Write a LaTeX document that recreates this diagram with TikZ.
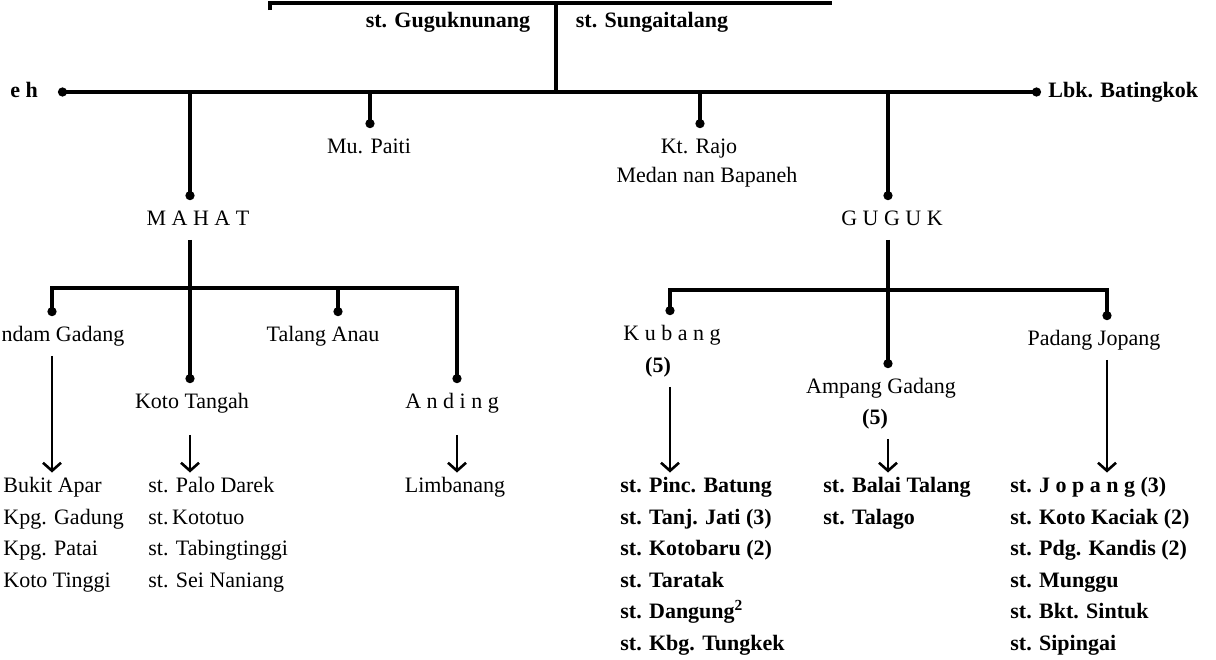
\documentclass[tikz,border=0pt]{standalone}
\usepackage{fontspec}
\setmainfont{Liberation Serif}
\usetikzlibrary{arrows.meta,calc}
\newcommand\lblfont{\fontsize{11}{13}\selectfont}

\begin{document}
\begin{tikzpicture}[
  x=0.5pt, y=-0.5pt,
  font=\lblfont,
  lbl/.style={inner sep=4.5pt, text height=8pt, text depth=2.5pt},
  item/.style={anchor=west, inner sep=0pt, outer ysep=2pt, text height=8pt, text depth=2.5pt},
  heavy/.style={font=\lblfont\bfseries},
  wire/.style={draw=black, line width=1.6pt},
  todot/.style={wire, -{Circle[length=4.5pt]}},
  bothdot/.style={wire, {Circle[length=4.5pt]}-{Circle[length=4.5pt]}},
  tolist/.style={draw=black, line width=1.3pt, -{Straight Barb[length=4pt,width=9pt]}}
]
\useasboundingbox (0,0) rectangle (1216,659);

\coordinate (boxL) at (270,3);
\coordinate (boxR) at (832,3);
\coordinate (boxM) at (556,3);
\coordinate (mainL) at (58,92);
\coordinate (mainR) at (1041,92);
\coordinate (jMahat) at (190,92);
\coordinate (jPaiti) at (370,92);
\coordinate (jRajo) at (700,92);
\coordinate (jGuguk) at (888,92);
\coordinate (mL) at (52,288);
\coordinate (mTa) at (338,288);
\coordinate (mR) at (457,288);
\coordinate (gL) at (670,290);
\coordinate (gR) at (1107,290);

\draw[wire, line width=2pt] ($(boxL)+(0,7)$) -- (boxL) -- (boxR);
\node[lbl, heavy] (gugnun) at (448,22) {st. Guguknunang};
\node[lbl, heavy] (sungai) at (652,22) {st. Sungaitalang};
\draw[wire] (boxM) -- (boxM |- mainL);

\node[lbl, heavy] (eh) at (24,92) {e h};
\node[item, heavy] (lbk) at (1048,92) {Lbk. Batingkok};
\draw[bothdot] (mainL) -- (mainR);

\node[lbl] (mahat) at (198,220) {M A H A T};
\node[lbl] (paiti) at (369,148) {Mu. Paiti};
\node[lbl] (rajo) at (699,148) {Kt. Rajo};
\node[lbl] (medan) at (707,177) {Medan nan Bapaneh};
\node[lbl] (guguk) at (892,220) {G U G U K};
\draw[todot] (jMahat) -- (jMahat |- mahat.north);
\draw[todot] (jPaiti) -- (jPaiti |- paiti.north);
\draw[todot] (jRajo) -- (jRajo |- rajo.north);
\draw[todot] (jGuguk) -- (jGuguk |- guguk.north);

\node[lbl] (andam) at (63,336) {ndam Gadang};
\node[lbl] (talang) at (323,336) {Talang Anau};
\node[lbl] (koto) at (192,403) {Koto Tangah};
\node[lbl] (anding) at (452,403) {A n d i n g};
\draw[bothdot] (mL |- andam.north) -- (mL) -- (mR) -- (mR |- anding.north);
\draw[todot] (mTa) -- (mTa |- talang.north);
\draw[todot] (jMahat |- mahat.south) -- (jMahat |- koto.north);

\foreach \t [count=\i] in {Bukit Apar, Kpg. Gadung, Kpg. Patai, Koto Tinggi}
  \node[item] (ba\i) at (3,487+31.5*\i-31.5) {\t};
\foreach \t [count=\i] in {st. Palo Darek, st.\,Kototuo, st. Tabingtinggi, st. Sei Naniang}
  \node[item] (kt\i) at (148,487+31.5*\i-31.5) {\t};
\node[item, anchor=center] (limb) at (455,487) {Limbanang};
\draw[tolist] (mL |- andam.south) -- (mL |- ba1.north);
\draw[tolist] ([yshift=-6pt]jMahat |- koto.south) -- (jMahat |- kt1.north);
\draw[tolist] ([yshift=-6pt]mR |- anding.south) -- (mR |- limb.north);

\node[lbl] (kubang) at (672,335) {K u b a n g};
\node[lbl, heavy] (kub5) at (658,367) {(5)};
\node[lbl] (padang) at (1094,340) {Padang Jopang};
\node[lbl] (ampang) at (881,388) {Ampang Gadang};
\node[lbl, heavy] (amp5) at (875,419) {(5)};
\draw[bothdot] (gL |- kubang.north) -- (gL) -- (gR) -- (gR |- padang.north);
\draw[todot] (jGuguk |- guguk.south) -- (jGuguk |- ampang.north);

\foreach \t [count=\i] in {st. Pinc. Batung, st. Tanj. Jati (3), st. Kotobaru (2), st. Taratak, st. Dangung\textsuperscript{2}, st. Kbg. Tungkek}
  \node[item, heavy] (kb\i) at (620,487+31.5*\i-31.5) {\t};
\foreach \t [count=\i] in {st. Balai Talang, st. Talago}
  \node[item, heavy] (ag\i) at (823,487+31.5*\i-31.5) {\t};
\foreach \t [count=\i] in {st. J o p a n g (3), st. Koto Kaciak (2), st. Pdg. Kandis (2), st. Munggu, st. Bkt. Sintuk, st. Sipingai}
  \node[item, heavy] (pj\i) at (1010,487+31.5*\i-31.5) {\t};
\draw[tolist] (gL |- kub5.south) -- (gL |- kb1.north);
\draw[tolist] (jGuguk |- amp5.south) -- (jGuguk |- ag1.north);
\draw[tolist] (gR |- padang.south) -- (gR |- pj1.north);
\end{tikzpicture}
\end{document}
